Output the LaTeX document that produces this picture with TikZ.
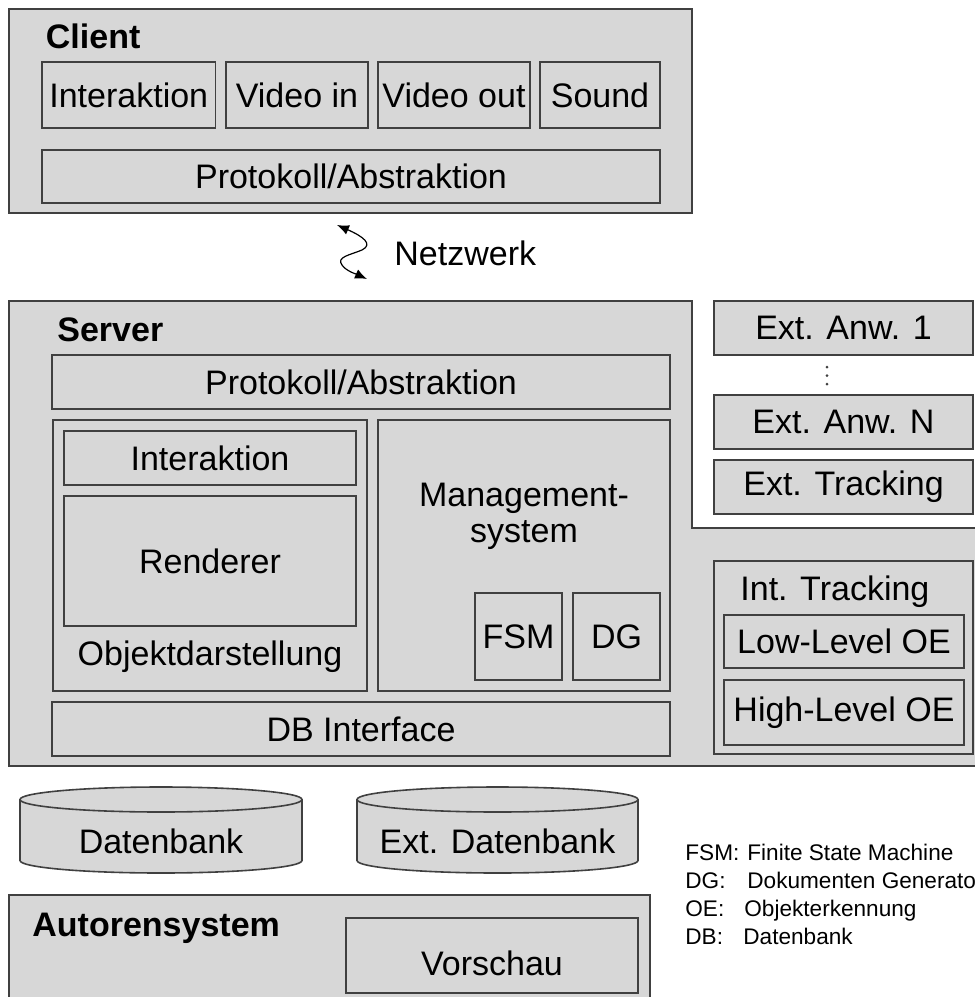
\documentclass[tikz,border=0pt]{standalone}
\usepackage{fontspec}
\setmainfont{Liberation Sans}
\usetikzlibrary{arrows.meta}

\definecolor{boxgray}{RGB}{215,215,215}
\definecolor{linecol}{RGB}{64,64,64}
\newcommand\mainsize{\fontsize{17pt}{20pt}\selectfont}
\newcommand\legendsize{\fontsize{11.3pt}{14pt}\selectfont}

% \blockbox{name}{x1}{y1}{x2}{y2}{text}: framed grey box given by its corners
\newcommand\blockbox[6]{%
  \node[box, minimum width={(#4-#2)*0.5pt}, minimum height={(#5-#3)*0.5pt}]
    (#1) at ({(#2+#4)/2},{(#3+#5)/2}) {#6};}

\begin{document}
\begin{tikzpicture}[x=0.5pt,y=-0.5pt,
  panel/.style={draw=linecol, fill=boxgray, line width=0.8pt},
  box/.style={draw=linecol, fill=boxgray, line width=0.8pt, inner sep=0pt, font=\mainsize},
  plain/.style={inner sep=0pt, font=\mainsize},
  title/.style={inner sep=0pt, font=\mainsize\bfseries, anchor=base west},
  legend/.style={inner sep=0pt, font=\legendsize, anchor=base west},
  netarrow/.style={{Latex[length=6pt,width=5pt]}-{Latex[length=6pt,width=5pt]}, line width=0.6pt, black},
]
\useasboundingbox (0,0) rectangle (975,997);
\clip (0,0) rectangle (975,997);

% ---------------- Client ----------------
\blockbox{client}{9}{9}{692}{213}{}
\node[title] (clienttitle) at (45.5,48) {Client};
\blockbox{cint}{42}{62}{215.5}{128}{Interaktion}
\blockbox{cvin}{226}{62}{368}{128}{Video in}
\blockbox{cvout}{378}{62}{530}{128}{Video out}
\blockbox{csound}{540}{62}{660}{128}{Sound}
\blockbox{cproto}{42}{150}{660}{203}{Protokoll/Abstraktion}

% ---------------- Network ----------------
\coordinate (netA) at (337,225);
\coordinate (netB) at (367,279);
\draw[netarrow] (netA) .. controls (362,236) and (374,244) .. (362,250)
  .. controls (350,255) and (336,257) .. (342,265)
  .. controls (346,271) and (356,274) .. (netB);
\node[plain, anchor=base west] (netz) at (394,265) {Netzwerk};

% ---------------- Server ----------------
\draw[panel] (9,301) -- (692,301) -- (692,528) -- (990,528) -- (990,766)
  -- (9,766) -- cycle;
\node[title] (servertitle) at (57,341) {Server};
\blockbox{sproto}{52}{355}{670}{409}{Protokoll/Abstraktion}

\blockbox{obj}{52.7}{420}{367}{691}{}
\blockbox{sint}{64}{431}{356}{485}{Interaktion}
\blockbox{render}{64}{496}{356}{626}{Renderer}
\node[plain, anchor=base] (objtext) at (210,665) {Objektdarstellung};

\blockbox{mgmt}{378}{420}{670}{691}{}
\node[plain, anchor=base] (mgmtA) at (524,506) {Management-};
\node[plain, anchor=base] (mgmtB) at (524,542) {system};
\blockbox{fsm}{475}{593}{562}{680}{FSM}
\blockbox{dg}{573}{593}{660}{680}{DG}

\blockbox{dbif}{52}{702}{670}{756}{DB Interface}

% external applications
\blockbox{extA}{714}{301}{973}{355}{Ext. Anw. 1}
\foreach \yy [count=\i] in {367,375.5,384}
  \fill[linecol] (827,\yy) circle[radius=0.75pt];
\blockbox{extN}{714}{395}{973}{449}{Ext. Anw. N}
\blockbox{exttr}{714}{460}{973}{514}{Ext. Tracking}

% internal tracking
\blockbox{inttr}{714}{561}{973}{754}{}
\node[plain, anchor=base west] (inttrtitle) at (740,600) {Int. Tracking};
\blockbox{lowoe}{724}{615}{964}{668}{Low-Level OE}
\blockbox{highoe}{724}{680}{964}{745}{High-Level OE}

% ---------------- Databases ----------------
\foreach \nm/\cx/\rx/\txt in {db/161/141/Datenbank, extdb/497.5/140.5/Ext. Datenbank}{
  \coordinate (\nm top) at (\cx,799.5);
  \fill[boxgray] ([xshift=-\rx*0.5pt]\nm top) -- ++(0,-30.5pt)
    arc[start angle=180, end angle=360, x radius=\rx*0.5pt, y radius=6.25pt]
    -- ++(0,30.5pt) -- cycle;
  \draw[linecol, line width=0.8pt] ([xshift=-\rx*0.5pt]\nm top) -- ++(0,-30.5pt)
    arc[start angle=180, end angle=360, x radius=\rx*0.5pt, y radius=6.25pt]
    -- ++(0,30.5pt);
  \draw[panel] (\nm top) ellipse[x radius=\rx*0.5pt, y radius=6.25pt];
  \node[plain] (\nm) at (\cx,841) {\txt};
}

% ---------------- Authoring system ----------------
\blockbox{autoren}{9}{895}{650}{1010}{}
\node[title] (autorentitle) at (32,936) {Autorensystem};
\blockbox{vorschau}{346}{918}{638}{993}{}
\node[plain] (vorschautext) at (492,963) {Vorschau};

% ---------------- Legend ----------------
\node[legend] (kfsm) at (685,860) {FSM:};
\node[legend] (vfsm) at (747,860) {Finite State Machine};
\node[legend] (kdg) at (685,888) {DG:};
\node[legend] (vdg) at (747,888) {Dokumenten Generator};
\node[legend] (koe) at (685,916) {OE:};
\node[legend] (voe) at (744,916) {Objekterkennung};
\node[legend] (kdb) at (685,944) {DB:};
\node[legend] (vdb) at (743,944) {Datenbank};
\end{tikzpicture}
\end{document}
